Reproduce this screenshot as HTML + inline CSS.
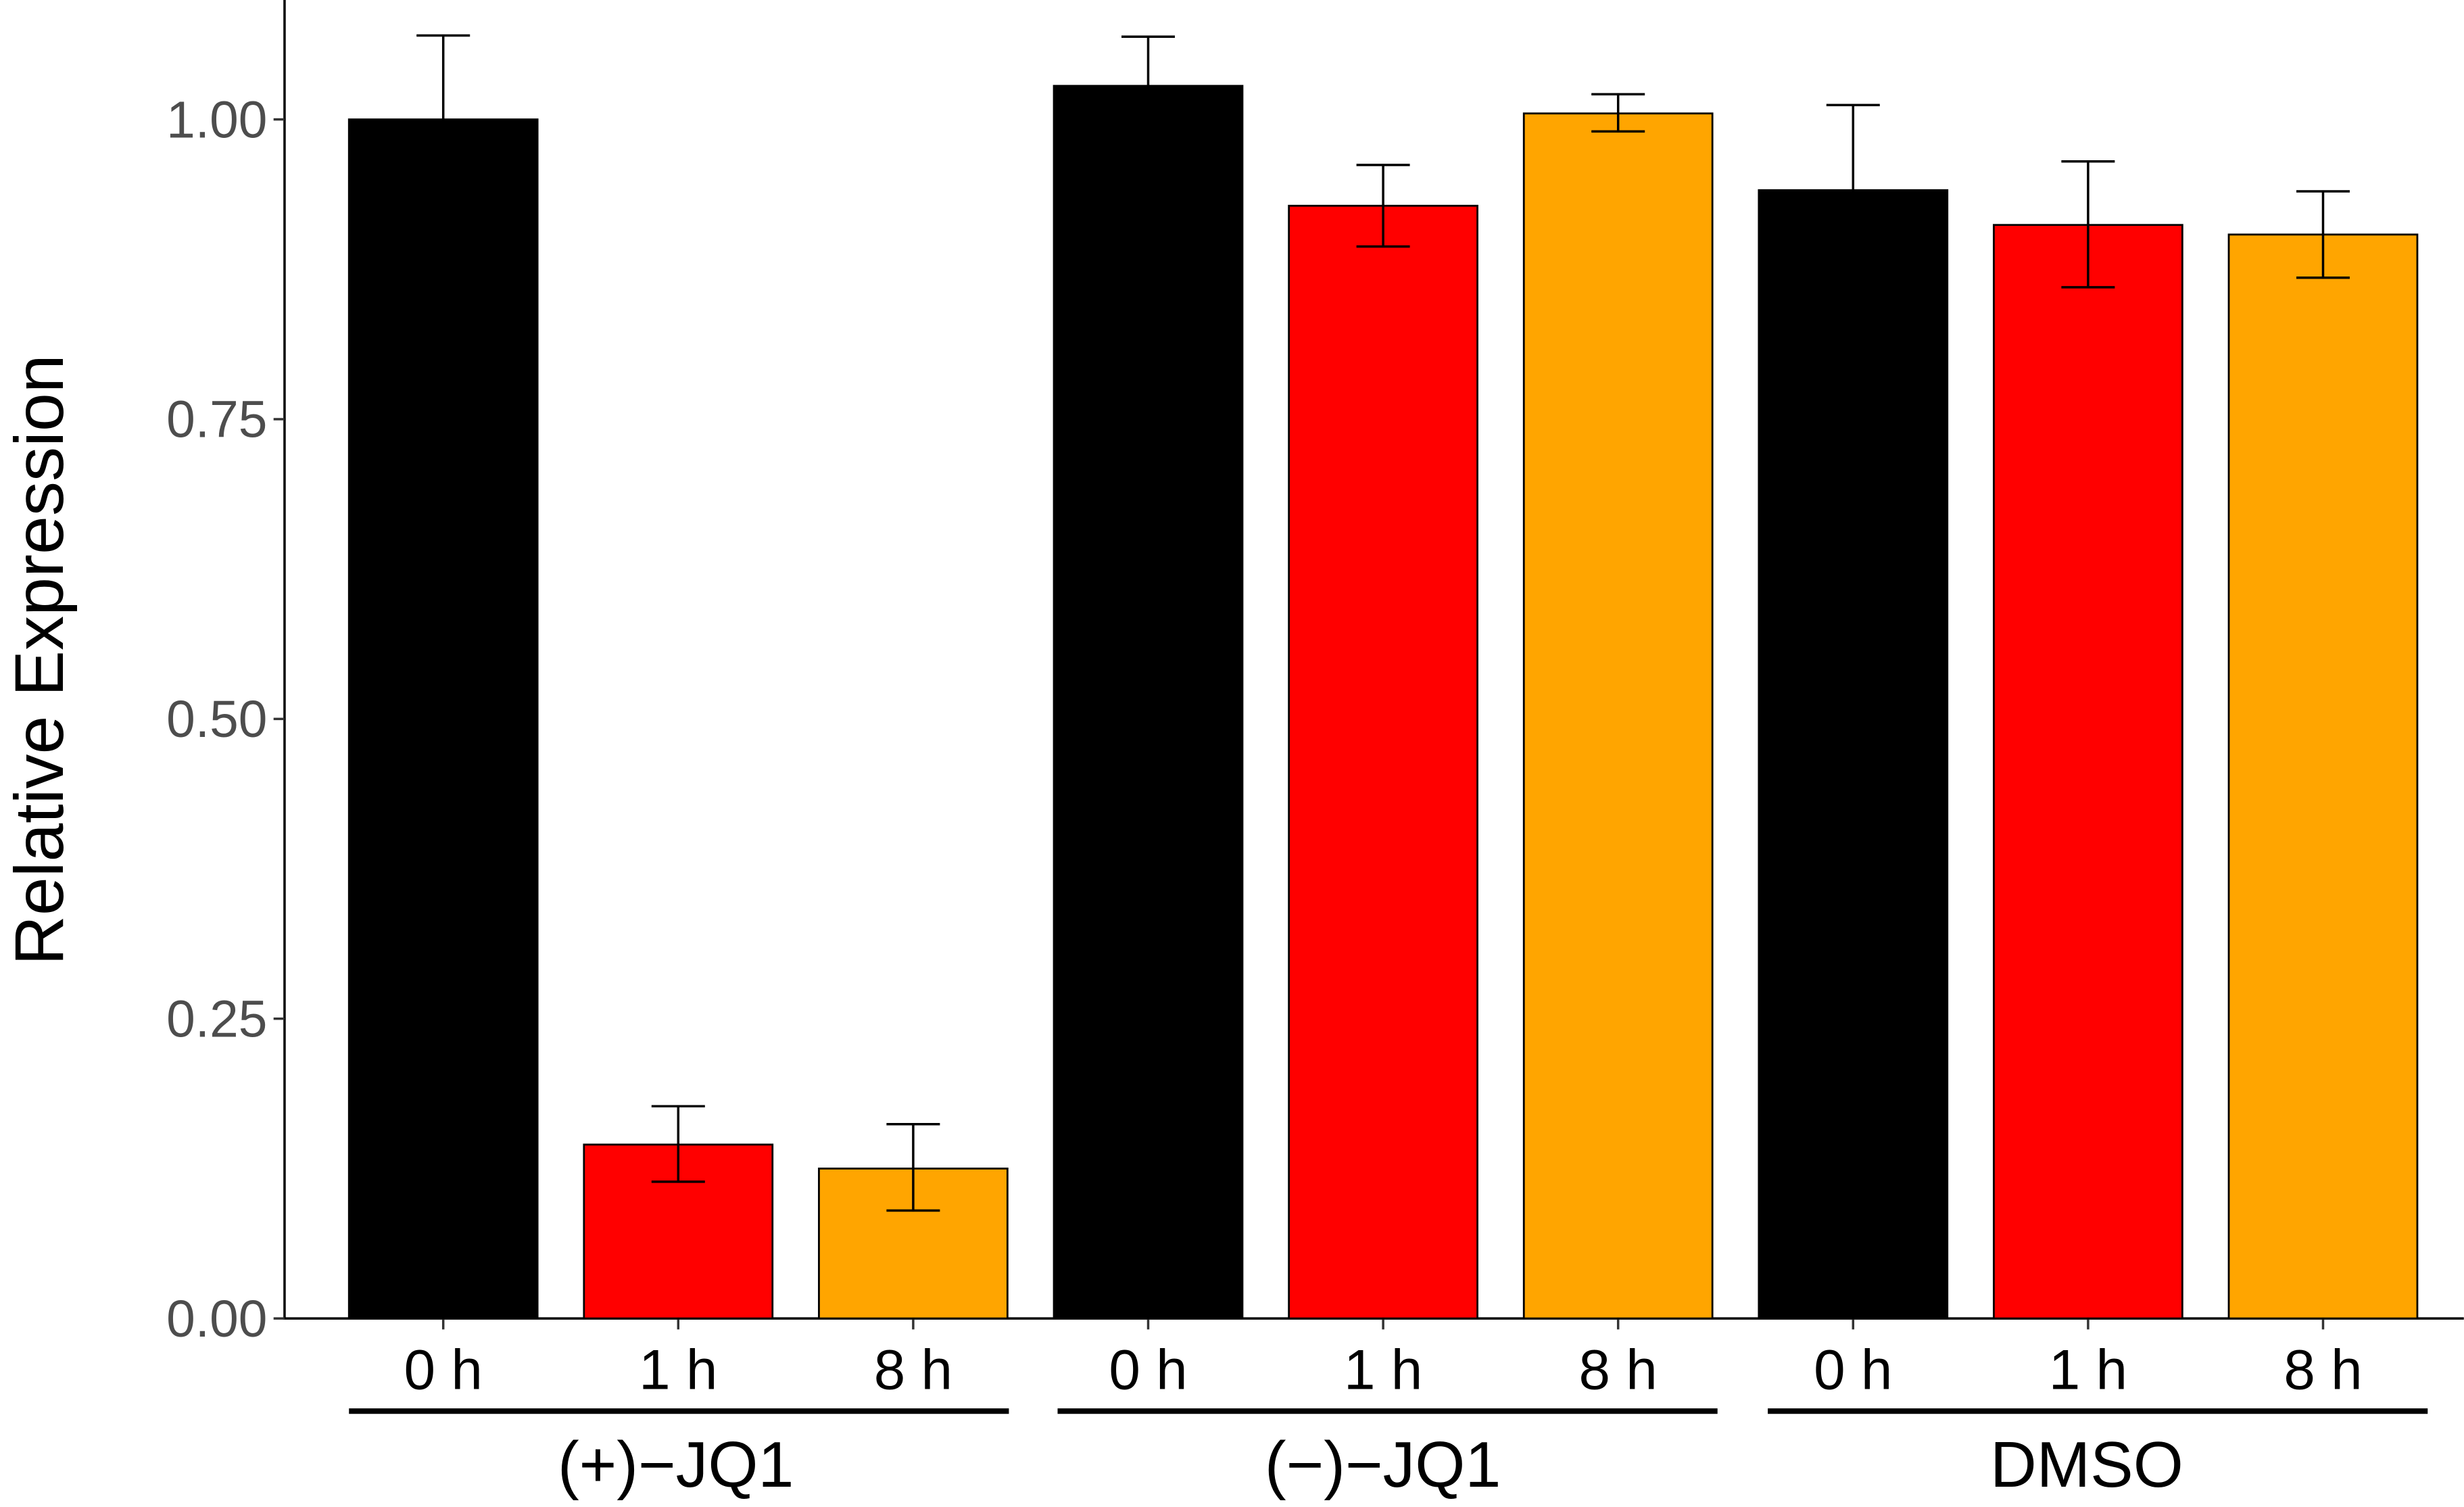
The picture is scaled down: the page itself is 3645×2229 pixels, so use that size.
<!DOCTYPE html>
<html><head><meta charset="utf-8"><style>html,body{margin:0;padding:0;background:#fff}svg{display:block}</style></head>
<body>
<svg id="chart" width="3645" height="2229" viewBox="0 0 1568 959" xmlns="http://www.w3.org/2000/svg" font-family="Liberation Sans, Arial, sans-serif">
<g id="axes"></g><g id="bars"></g>
</svg>
<script>
const categories = ["0 h","1 h","8 h","0 h","1 h","8 h","0 h","1 h","8 h"];
const groups = ["(+)\u2212JQ1","(\u2212)\u2212JQ1","DMSO"];
const values = [1.0,0.145,0.125,1.028,0.928,1.005,0.941,0.912,0.904];
const errHigh = [1.07,0.177,0.162,1.069,0.962,1.021,1.012,0.965,0.940];
const errLow = [0.93,0.114,0.090,0.987,0.894,0.990,0.870,0.860,0.868];
const colors = ["#000000","#ff0000","#ffa500"];
const yTicks = [0,0.25,0.5,0.75,1.0];
const yTickLabels = ["0.00","0.25","0.50","0.75","1.00"];

const NS="http://www.w3.org/2000/svg";
const y0=839, y1=76;
const Y=v=>y0-(y0-y1)*v;
const X=i=>222+i*149.55;
const bw=120;
const gStart=[222,673,1125], gEnd=[642,1093,1545], gCenter=[430,880,1328];
function mk(tag,attrs,parent,txt){const e=document.createElementNS(NS,tag);for(const k in attrs)e.setAttribute(k,attrs[k]);if(txt!==undefined)e.textContent=txt;parent.appendChild(e);return e;}
const axes=document.getElementById('axes'), bars=document.getElementById('bars');

let e=mk('line',{x1:181,y1:0,x2:181,y2:839.5,stroke:'#000','stroke-width':1.5},axes);


e=mk('line',{x1:180,y1:839,x2:1568,y2:839,stroke:'#000','stroke-width':1.5},axes);


yTicks.forEach((t,i)=>{
  e=mk('line',{x1:174,y1:Y(t),x2:181,y2:Y(t),stroke:'#333','stroke-width':1.5},axes);
  
  
  e=mk('text',{x:170,y:Y(t)+11.5,'text-anchor':'end','font-size':33,fill:'#4d4d4d'},axes,yTickLabels[i]);
  
  
});
e=mk('text',{x:0,y:0,transform:'translate(40,420) rotate(-90)','text-anchor':'middle','font-size':44,fill:'#000'},axes,'Relative Expression');



values.forEach((v,i)=>{
  const x=X(i);
  e=mk('rect',{x:x,y:Y(v),width:bw,height:Y(0)-Y(v),fill:colors[i%3],stroke:'#000','stroke-width':1.2},bars);
  
  
  const cx=x+bw/2;
  const g=mk('g',{stroke:'#000','stroke-width':1.5},bars);
  
  
  mk('line',{x1:cx,y1:Y(errHigh[i]),x2:cx,y2:Y(errLow[i])},g);
  mk('line',{x1:cx-17,y1:Y(errHigh[i]),x2:cx+17,y2:Y(errHigh[i])},g);
  mk('line',{x1:cx-17,y1:Y(errLow[i]),x2:cx+17,y2:Y(errLow[i])},g);
  e=mk('line',{x1:cx,y1:839,x2:cx,y2:846,stroke:'#333','stroke-width':1.5},axes);
  
  
  e=mk('text',{x:cx,y:884,'text-anchor':'middle','font-size':36,fill:'#000'},axes,categories[i]);
  
  
});
groups.forEach((g,j)=>{
  const xa=gStart[j], xb=gEnd[j];
  e=mk('line',{x1:xa,y1:898,x2:xb,y2:898,stroke:'#000','stroke-width':3.5},axes);
  
  
  e=mk('text',{x:gCenter[j],y:946,'text-anchor':'middle','font-size':41,fill:'#000'},axes,g);
  
  
});
</script>
</body></html>
